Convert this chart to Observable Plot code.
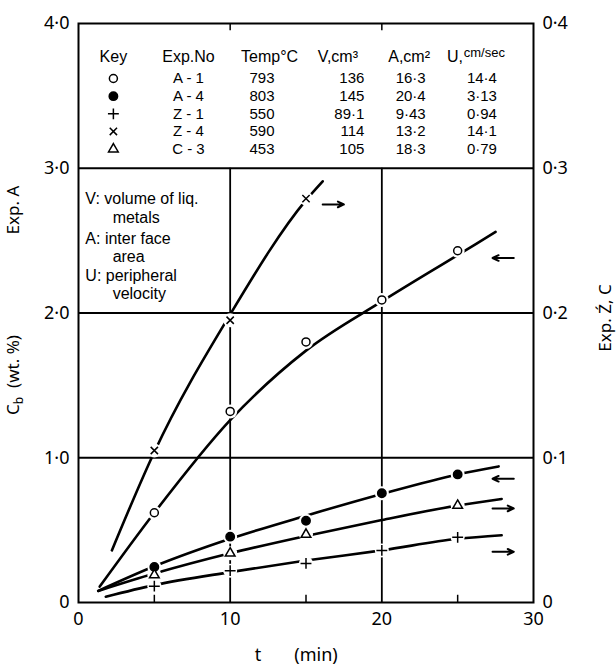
<!DOCTYPE html>
<html><head><meta charset="utf-8">
<script src="https://cdn.jsdelivr.net/npm/d3@7"></script>
<script src="https://cdn.jsdelivr.net/npm/@observablehq/plot@0.6"></script>
<style>
body{margin:0;background:#fff}
svg{font-family:"Noto Sans","DejaVu Sans",sans-serif}
</style>
</head><body><div id="chart"></div>
<script>
// ---- data ----
// measured points: time (min)
const tA1 = [5, 10, 15, 20, 25];
const vA1 = [0.62, 1.32, 1.80, 2.09, 2.43];          // left axis, Exp. A
const tA4 = [5, 10, 15, 20, 25];
const vA4 = [0.245, 0.455, 0.565, 0.755, 0.885];     // left axis, Exp. A
const tZ1 = [5, 10, 15, 20, 25];
const vZ1 = [0.0113, 0.022, 0.027, 0.036, 0.045];    // right axis, Exp. Z, C
const tZ4 = [5, 10, 15];
const vZ4 = [0.105, 0.195, 0.279];                   // right axis
const tC3 = [5, 10, 15, 25];
const vC3 = [0.019, 0.034, 0.047, 0.067];            // right axis

// fitted curves as drawn in the figure
const cA1t = [1.4, 5, 10, 15, 20, 25, 27.5];
const cA1v = [0.11, 0.62, 1.26, 1.74, 2.08, 2.40, 2.56];
const cA4t = [1.3, 5, 10, 15, 20, 25, 27.7];
const cA4v = [0.08, 0.25, 0.44, 0.60, 0.75, 0.885, 0.94];
const cZ1t = [1.8, 5, 10, 15, 20, 25, 27.9];
const cZ1v = [0.004, 0.012, 0.021, 0.029, 0.036, 0.044, 0.0465];
const cZ4t = [2.2, 5, 10, 15, 16.1];
const cZ4v = [0.036, 0.104, 0.199, 0.278, 0.291];
const cC3t = [1.3, 5, 10, 15, 20, 25, 27.9];
const cC3v = [0.008, 0.02, 0.034, 0.046, 0.057, 0.067, 0.0715];

// arrows showing which axis each curve refers to (-1 = left axis, 1 = right axis)
const arrowSeries = ["Z-4", "A-1", "A-4", "C-3", "Z-1"];
const arrowT = [16.8, 28.0, 28.0, 28.0, 28.0];
const arrowV = [2.75, 2.38, 0.855, 0.65, 0.35];
const arrowDir = [1, -1, -1, 1, 1];

// key table
const keySeries = ["A-1", "A-4", "Z-1", "Z-4", "C-3"];
const expNo = ["A - 1", "A - 4", "Z - 1", "Z - 4", "C - 3"];
const temp = ["793", "803", "550", "590", "453"];
const volume = ["136", "145", "89·1", "114", "105"];
const area = ["16·3", "20·4", "9·43", "13·2", "18·3"];
const velocity = ["14·4", "3·13", "0·94", "14·1", "0·79"];
const headers = ["Key", "Exp.No", "Temp°C", "V,cm³", "A,cm²"];
const notes = ["V: volume of liq.", "metals", "A: inter face", "area", "U: peripheral", "velocity"];

// axis tick labels
const xTicks = [0, 10, 20, 30];
const yTicks = [0, 1, 2, 3, 4];
const leftLabels = ["0", "1·0", "2·0", "3·0", "4·0"];
const rightLabels = ["0", "0·1", "0·2", "0·3", "0·4"];

// ---- build tables ----
const rightToLeft = 10; // right axis 0..0.4 maps onto left axis 0..4
const pts = [];
const addPts = (s, ts, vs, k) => ts.forEach((t, i) => pts.push({s, t, v: vs[i] * k}));
addPts("A-1", tA1, vA1, 1);
addPts("A-4", tA4, vA4, 1);
addPts("Z-1", tZ1, vZ1, rightToLeft);
addPts("Z-4", tZ4, vZ4, rightToLeft);
addPts("C-3", tC3, vC3, rightToLeft);

const curves = [];
const addCurve = (s, ts, vs, k) => ts.forEach((t, i) => curves.push({s, t, v: vs[i] * k}));
addCurve("A-1", cA1t, cA1v, 1);
addCurve("A-4", cA4t, cA4v, 1);
addCurve("Z-1", cZ1t, cZ1v, rightToLeft);
addCurve("Z-4", cZ4t, cZ4v, rightToLeft);
addCurve("C-3", cC3t, cC3v, rightToLeft);

const arrows = arrowSeries.map((s, i) => ({s, t: arrowT[i], v: arrowV[i], d: arrowDir[i]}));

// table layout (data units)
const colX = [2.3, 7.25, 12.1, 18.85, 21.9, 26.6];
const colAnchor = ["middle", "middle", "middle", "end", "middle", "middle"];
const headX = [2.3, 7.25, 12.6, 17.1, 21.8];
const headY = 3.77;
const rowY = i => 3.62 - i * 0.122;
const tableRows = keySeries.map((s, i) => ({s, i}));
const cellCols = [expNo, temp, volume, area, velocity];
const headCells = headers.map((h, i) => ({x: headX[i], y: headY, txt: h}));
const noteX = [0.45, 2.25, 0.45, 2.25, 0.45, 2.25];
const noteY = [2.79, 2.655, 2.515, 2.39, 2.255, 2.13];
const noteCells = notes.map((n, i) => ({x: noteX[i], y: noteY[i], txt: n}));

const symbolOf = {"A-1": "circle", "A-4": "circle", "Z-1": "plus", "Z-4": "times", "C-3": "triangle"};
const fillOf = {"A-1": "white", "A-4": "black", "Z-1": "none", "Z-4": "none", "C-3": "white"};
const rOf = {"A-1": 4.0, "A-4": 4.2, "Z-1": 3.6, "Z-4": 3.4, "C-3": 3.6};

const markerMarks = (data, xf, yf) =>
  keySeries.map(s => Plot.dot(data.filter(d => d.s === s), {
    x: xf, y: yf, symbol: () => symbolOf[s], r: rOf[s],
    fill: fillOf[s], stroke: "black", strokeWidth: 1.5
  }));

const tableFont = "'Liberation Sans', Arial, sans-serif";

const chart = Plot.plot({
  width: 616, height: 666,
  marginLeft: 78, marginRight: 83, marginTop: 23, marginBottom: 64,
  x: {domain: [0, 30]},
  y: {domain: [0, 4]},
  style: {fontSize: "18px", fontFamily: "'Noto Sans', sans-serif", background: "white"},
  marks: [
    // grid
    Plot.ruleY([1, 2, 3], {stroke: "black", strokeWidth: 1.8}),
    Plot.ruleX([10, 20], {y1: 0, y2: 3, stroke: "black", strokeWidth: 1.8}),
    Plot.ruleX([10, 20], {y1: 4, y2: 3.95, stroke: "black", strokeWidth: 1.5}),
    Plot.ruleX([5, 15, 25], {y1: 0, y2: 0.05, stroke: "black", strokeWidth: 1.5}),
    Plot.frame({stroke: "black", strokeWidth: 2}),
    // curves
    Plot.line(curves, {x: "t", y: "v", z: "s", curve: "monotone-x", stroke: "black", strokeWidth: 2.6}),
    // gaps around markers
    Plot.dot(pts, {x: "t", y: "v", r: 7, fill: "white", stroke: null}),
    ...markerMarks(pts, "t", "v"),
    // axis arrows
    Plot.arrow(arrows, {
      x1: d => d.t - 0.7 * d.d, x2: d => d.t + 0.7 * d.d, y1: "v", y2: "v",
      stroke: "black", strokeWidth: 2, headLength: 5, headAngle: 50
    }),
    // key table
    Plot.text(headCells, {x: "x", y: "y", text: "txt", fontSize: 16, textAnchor: "middle", fontFamily: tableFont}),
    Plot.text(["U,"], {x: 24.3, y: headY, text: d => d, fontSize: 16, textAnchor: "start", fontFamily: tableFont}),
    Plot.text(["cm/sec"], {x: 25.4, y: headY, text: d => d, fontSize: 13, textAnchor: "start", dy: -4, fontFamily: tableFont}),
    ...markerMarks(tableRows, () => colX[0], d => rowY(d.i)),
    ...cellCols.map((col, c) => Plot.text(col, {
      x: () => colX[c + 1], y: (d, i) => rowY(i), text: d => d,
      fontSize: 15, textAnchor: colAnchor[c + 1], fontFamily: tableFont, letterSpacing: 0.6
    })),
    // notes box
    Plot.text(noteCells, {x: "x", y: "y", text: "txt", fontSize: 16, textAnchor: "start", letterSpacing: 0.5, fontFamily: tableFont}),
    // axes
    Plot.axisY({ticks: yTicks, tickFormat: (d, i) => leftLabels[i], tickSize: 0, tickPadding: 9, label: null, fontSize: 18}),
    Plot.axisY({anchor: "right", ticks: yTicks, tickFormat: (d, i) => rightLabels[i], tickSize: 0, tickPadding: 9, label: null, fontSize: 18}),
    Plot.axisX({ticks: xTicks, tickSize: 0, tickPadding: 10, label: null, fontSize: 18})
  ]
});

const svg = d3.select(chart);
// axis titles
const yl = svg.append("text").attr("transform", "translate(19,375) rotate(-90)")
  .attr("text-anchor", "middle").attr("font-size", 17);
yl.append("tspan").text("C");
yl.append("tspan").attr("font-size", 12).attr("dy", 4).text("b");
yl.append("tspan").attr("dy", -4).text("  (wt. %)");
svg.append("text").attr("transform", "translate(19,210) rotate(-90)")
  .attr("text-anchor", "middle").attr("font-size", 17).text("Exp. A");
svg.append("text").attr("transform", "translate(611,318) rotate(-90)")
  .attr("text-anchor", "middle").attr("font-size", 17).text("Exp. Ź, C");
svg.append("text").attr("x", 258).attr("y", 661).attr("text-anchor", "middle")
  .attr("font-size", 18).text("t");
svg.append("text").attr("x", 316).attr("y", 661).attr("text-anchor", "middle")
  .attr("font-size", 18).text("(min)");

document.getElementById("chart").appendChild(chart);
</script></body></html>
